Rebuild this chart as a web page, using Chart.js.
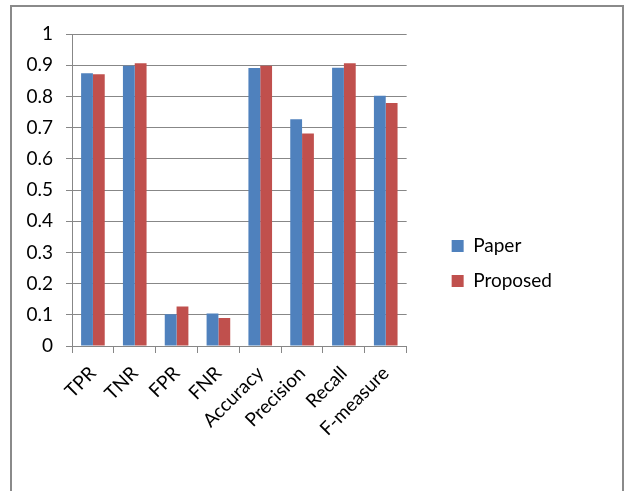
<!DOCTYPE html>
<html>
<head>
<meta charset="utf-8">
<script src="https://cdn.jsdelivr.net/npm/chart.js"></script>
<style>
  html, body { margin: 0; padding: 0; background: #fff; overflow: hidden; }
  #frame { position: absolute; left: 10px; top: 5px; width: 614px; height: 510px; border: 2px solid #8a8a8a; box-sizing: border-box; }
  #wrap { position: absolute; left: 0; top: 0; width: 630px; height: 493px; }
</style>
</head>
<body>
<div id="frame"></div>
<div id="wrap"><canvas id="myChart"></canvas></div>
<script>
const categories = ['TPR', 'TNR', 'FPR', 'FNR', 'Accuracy', 'Precision', 'Recall', 'F-measure']
const paper = [0.874, 0.898, 0.102, 0.104, 0.891, 0.727, 0.892, 0.802]
const proposed = [0.871, 0.906, 0.127, 0.090, 0.898, 0.681, 0.906, 0.779]
const yTicks = [0, 0.1, 0.2, 0.3, 0.4, 0.5, 0.6, 0.7, 0.8, 0.9, 1]

const gridColor = '#878787'
const font = { family: 'Lato', size: 19 }

// legend sits a bit away from the plot, like the excel original
const legendGap = {
  id: 'legendGap',
  afterLayout(chart) {
    chart.legend.left += 29
    chart.legend.right += 29
  }
}

const ctx = document.getElementById('myChart')
new Chart(ctx, {
  type: 'bar',
  data: {
    labels: categories,
    datasets: [{
      label: 'Paper',
      data: paper,
      backgroundColor: '#4F81BD',
      borderWidth: 0
    }, {
      label: 'Proposed',
      data: proposed,
      backgroundColor: '#C0504D',
      borderWidth: 0
    }]
  },
  plugins: [legendGap],
  options: {
    responsive: true,
    maintainAspectRatio: false,
    animation: false,
    datasets: {
      bar: { categoryPercentage: 0.565, barPercentage: 1 }
    },
    layout: {
      padding: { top: 34, right: 97, bottom: 0, left: 0 }
    },
    plugins: {
      tooltip: { enabled: false },
      legend: {
        position: 'right',
        labels: {
          color: '#000',
          font: font,
          boxWidth: 12,
          boxHeight: 12,
          padding: 16
        }
      }
    },
    scales: {
      x: {
        offset: true,
        grid: { display: true, drawOnChartArea: false, drawTicks: true, tickLength: 7, color: gridColor, offset: true },
        border: { color: gridColor },
        ticks: { color: '#000', font: font, minRotation: 45, maxRotation: 45, autoSkip: false, padding: 9 },
        afterFit: scale => { scale.height = 147 }
      },
      y: {
        min: 0,
        max: 1,
        afterBuildTicks: scale => { scale.ticks = yTicks.map(v => ({ value: v })) },
        grid: { color: gridColor, tickLength: 6 },
        border: { color: gridColor },
        ticks: { color: '#000', font: font, padding: 13, callback: v => String(v) },
        afterFit: scale => { scale.width = 72 }
      }
    }
  }
})
</script>
</body>
</html>
